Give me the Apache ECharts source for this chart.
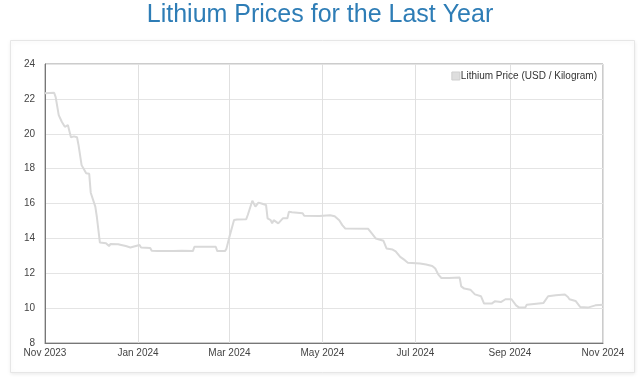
<!DOCTYPE html>
<html>
<head>
<meta charset="utf-8">
<script src="https://cdn.jsdelivr.net/npm/echarts@6/dist/echarts.min.js"></script>
<style>
html,body{margin:0;padding:0;background:#fff;}
#c{width:640px;height:377px;}
</style>
</head>
<body>
<div id="c"></div>
<script>
const titleText = 'Lithium Prices for the Last Year';
const seriesName = 'Lithium Price (USD / Kilogram)';
const monthNames = ['Jan','Feb','Mar','Apr','May','Jun','Jul','Aug','Sep','Oct','Nov','Dec'];
const yTicks = [8, 10, 12, 14, 16, 18, 20, 22, 24];
const dates = [
'2023-11-01','2023-11-07','2023-11-08','2023-11-10','2023-11-12','2023-11-14','2023-11-15','2023-11-16',
'2023-11-18','2023-11-20','2023-11-22','2023-11-23','2023-11-25','2023-11-28','2023-11-30','2023-12-01',
'2023-12-02','2023-12-04','2023-12-05','2023-12-07','2023-12-11','2023-12-13','2023-12-14','2023-12-19',
'2023-12-21','2023-12-22','2023-12-24','2023-12-25','2023-12-27','2023-12-28','2024-01-02','2024-01-03',
'2024-01-09','2024-01-10','2024-01-14','2024-01-24','2024-01-25','2024-01-30','2024-02-06','2024-02-07',
'2024-02-21','2024-02-22','2024-02-27','2024-02-28','2024-03-01','2024-03-04','2024-03-06','2024-03-12',
'2024-03-13','2024-03-16','2024-03-18','2024-03-20','2024-03-22','2024-03-25','2024-03-26','2024-03-28',
'2024-03-29','2024-03-30','2024-04-02','2024-04-05','2024-04-08','2024-04-09','2024-04-11','2024-04-12',
'2024-04-18','2024-04-19','2024-04-29','2024-05-06','2024-05-09','2024-05-12','2024-05-14','2024-05-16',
'2024-05-31','2024-06-01','2024-06-03','2024-06-05','2024-06-10','2024-06-12','2024-06-16','2024-06-18',
'2024-06-21','2024-06-24','2024-06-26','2024-07-04','2024-07-08','2024-07-12','2024-07-14','2024-07-16',
'2024-07-18','2024-07-23','2024-07-24','2024-07-30','2024-07-31','2024-08-02','2024-08-06','2024-08-09',
'2024-08-13','2024-08-15','2024-08-20','2024-08-22','2024-08-23','2024-08-26','2024-08-29','2024-09-02',
'2024-09-03','2024-09-05','2024-09-07','2024-09-11','2024-09-12','2024-09-23','2024-09-26','2024-10-01',
'2024-10-07','2024-10-09','2024-10-10','2024-10-14','2024-10-17','2024-10-22','2024-10-27','2024-11-01'
];
const prices = [
22.32,22.35,22.10,21.07,20.69,20.40,20.35,20.50,
19.80,19.85,19.80,19.35,18.20,17.73,17.70,16.62,
16.55,15.82,15.24,13.76,13.72,13.56,13.68,13.66,
13.62,13.52,13.56,13.48,13.48,13.58,13.62,13.48,
13.45,13.29,13.27,13.27,13.33,13.29,13.27,13.52,
13.52,13.27,13.27,13.40,14.10,15.05,15.08,15.10,
15.34,16.16,15.82,16.05,16.00,15.91,15.15,15.05,
14.86,15.05,14.86,15.15,15.15,15.53,15.50,15.44,
15.44,15.30,15.28,15.33,15.27,15.04,14.76,14.56,
14.55,14.47,14.22,13.99,13.86,13.42,13.36,13.26,
12.94,12.75,12.60,12.56,12.50,12.42,12.27,11.92,
11.73,11.73,11.79,11.75,11.25,11.12,11.06,10.79,
10.68,10.26,10.26,10.39,10.35,10.35,10.51,10.51,
10.55,10.16,10.03,10.03,10.20,10.30,10.68,10.74,
10.78,10.64,10.51,10.41,10.07,10.03,10.16,10.20
];
const xMin = '2023-11-01';
const xMax = '2024-11-01';

const chart = echarts.init(document.getElementById('c'), null, {renderer:'canvas'});
const font = 'Liberation Sans, Arial, sans-serif';
chart.setOption({
  animation: false,
  textStyle: {fontFamily: font},
  title: {
    text: titleText, left: 'center', top: -2,
    textStyle: {fontFamily: font, fontSize: 25, fontWeight: 'normal', color: '#2e7db6'}
  },
  graphic: [{
    type: 'rect', z: -10, silent: true,
    shape: {x: 10.5, y: 40.5, width: 624, height: 332},
    style: {fill: '#fff', stroke: '#e6e6e6', lineWidth: 1,
      shadowBlur: 4, shadowColor: 'rgba(0,0,0,0.08)', shadowOffsetY: 1}
  }],
  legend: {
    right: 38, top: 66, icon: 'rect', itemWidth: 8, itemHeight: 8,
    data: [{name: seriesName, itemStyle: {color: '#dedede', borderColor: '#cfcfcf', borderWidth: 1}}],
    textStyle: {fontFamily: font, fontSize: 10, color: '#333', padding: [0,0,0,-4]}
  },
  grid: {left: 45, right: 37, top: 64, bottom: 34, show: true, borderColor: '#999', borderWidth: 1, containLabel: false},
  xAxis: {
    type: 'time', min: xMin, max: xMax, splitNumber: 6,
    axisLine: {show: true, lineStyle: {color: '#777', width: 1}},
    axisTick: {show: false},
    splitLine: {show: true, lineStyle: {color: '#e0e0e0', width: 1}},
    axisLabel: {
      fontFamily: font, fontSize: 10, color: '#444', margin: 5,
      showMinLabel: true, showMaxLabel: true, hideOverlap: false,
      formatter: function (v) { const d = new Date(v); return monthNames[d.getMonth()] + ' ' + d.getFullYear(); }
    }
  },
  yAxis: {
    type: 'value', min: yTicks[0], max: yTicks[yTicks.length-1], interval: yTicks[1]-yTicks[0],
    axisLine: {show: true, lineStyle: {color: '#777', width: 1}},
    axisTick: {show: false},
    splitLine: {show: true, lineStyle: {color: '#e4e4e4', width: 1}},
    axisLabel: {fontFamily: font, fontSize: 10, color: '#444', margin: 10}
  },
  series: [{
    name: seriesName, type: 'line', showSymbol: false, symbol: 'none',
    lineStyle: {color: '#d9d9d9', width: 2},
    itemStyle: {color: '#dedede'},
    data: dates.map((d, i) => [d, prices[i]])
  }]
});
</script>
</body>
</html>
